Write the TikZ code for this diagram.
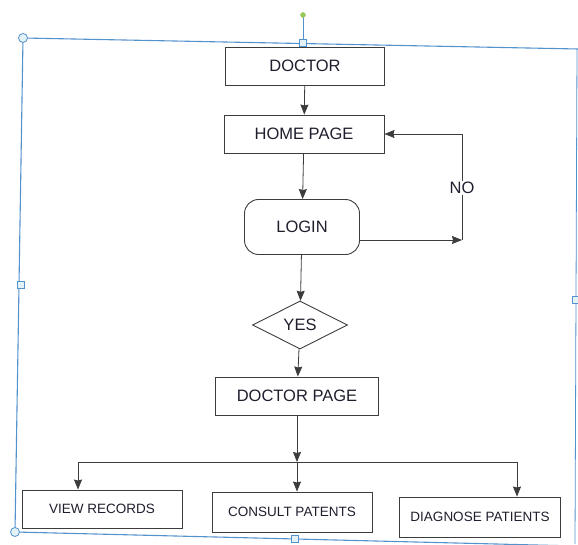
\documentclass[tikz,border=0pt]{standalone}
\usepackage{fontspec}
\setmainfont{Liberation Sans}
\usetikzlibrary{shapes.geometric, arrows.meta}
\definecolor{frameblue}{RGB}{84,146,204}
\definecolor{handlefill}{RGB}{226,242,246}
\definecolor{rotgreen}{RGB}{150,200,90}
\definecolor{boxgray}{RGB}{60,60,60}
\definecolor{inkblack}{RGB}{30,30,45}

\begin{document}
\begin{tikzpicture}[x=1pt, y=1pt, >={Stealth[length=10pt, width=8pt, inset=1pt]},
    box/.style={draw=boxgray, line width=0.9pt, inner sep=0pt, text=inkblack,
        minimum width=160pt, minimum height=38pt, font=\fontsize{16.5}{18}\selectfont},
    smallbox/.style={box, font=\fontsize{13.5}{15}\selectfont},
    flow/.style={draw=boxgray, line width=0.8pt},
    handle/.style={draw=frameblue, fill=handlefill, line width=0.8pt}]
    \useasboundingbox (0,0) rectangle (578,544);

    % Canvas frame
    \draw[frameblue, line width=1.1pt] (23,506) -- (578,495);
    \draw[frameblue, line width=1.1pt] (23,506) -- (15,12);
    \draw[frameblue, line width=1.1pt] (15,12) -- (576,-2);
    \draw[frameblue, line width=0.8pt] (577,495) -- (575,0);
    \draw[frameblue, line width=0.8pt] (303,501) -- (303,527);
    \filldraw[rotgreen] (303,529) circle (2.5);
    \filldraw[handle] (23,506) circle (4.5);
    \filldraw[handle] (15,12) circle (4.5);
    \filldraw[handle] (299.5,497.5) rectangle ++(7,7);
    \filldraw[handle] (17.5,255.5) rectangle ++(7,7);
    \filldraw[handle] (572,240.5) rectangle ++(7,7);
    \filldraw[handle] (291.5,1.5) rectangle ++(7,7);

    % Flow boxes
    \node[box, minimum width=159pt] (doctor) at (305,478) {DOCTOR};
    \node[box] (home) at (304,410) {HOME PAGE};
    \node[box, minimum width=115pt, minimum height=55pt, rounded corners=14pt] (login) at (302,317) {LOGIN};
    \node[box, shape=diamond, minimum width=95pt, minimum height=48pt] (yes) at (300,219) {YES};
    \node[box, minimum width=163pt] (dpage) at (297,148) {DOCTOR PAGE};
    \node[font=\fontsize{16.5}{18}\selectfont, text=inkblack, inner sep=1pt] (no) at (462,356) {NO};

    % Bottom boxes
    \node[smallbox] (view) at (102,35) {VIEW RECORDS};
    \node[smallbox, minimum height=40pt] (consult) at (292,32) {CONSULT PATENTS};
    \node[smallbox, minimum width=161pt, minimum height=40pt] (diag) at (480,27) {DIAGNOSE PATIENTS};

    \coordinate (nocorner) at (462,304);
    \coordinate (split) at (297,82);
    \coordinate (splitl) at (78,82);
    \coordinate (splitr) at (517,82);

    % Arrows
    \draw[flow, ->] (doctor) -- (home);
    \draw[flow, ->] (home) -- (login);
    \draw[flow, ->] (login) -- (yes);
    \draw[flow, ->] (yes) -- (dpage);
    \draw[flow, ->] (login.east |- nocorner) -- (nocorner);
    \draw[flow] (nocorner) -- (no);
    \draw[flow, ->] (no) |- (home.east);

    \draw[flow, ->] (dpage) -- (split);
    \draw[flow] (splitl) -- (splitr);
    \draw[flow, ->] (splitl) -- (splitl |- view.north);
    \draw[flow, ->] (split) -- (split |- consult.north);
    \draw[flow, ->] (splitr) -- (splitr |- diag.north);
\end{tikzpicture}
\end{document}
